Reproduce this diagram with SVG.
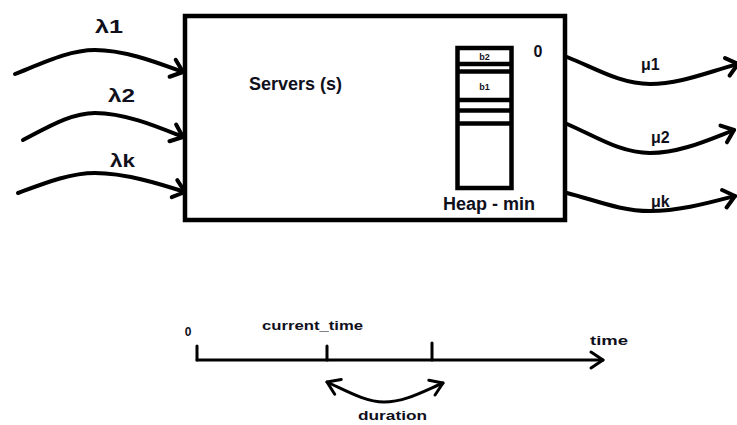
<svg xmlns="http://www.w3.org/2000/svg" width="737" height="425" viewBox="0 0 737 425">
  <defs>
    <style>
      .line { fill: none; stroke: #000; stroke-linecap: round; stroke-linejoin: round; }
      .flow { stroke-width: 4; }
      .thin { stroke-width: 3; }
      .lbl { font-family: "Liberation Sans", Arial, sans-serif; font-weight: bold; fill: #10101c; }
      .big { font-size: 18px; }
      .mid { font-size: 16px; }
      .small { font-size: 12px; }
      .tiny { font-size: 9px; }
    </style>
    <marker id="chev" viewBox="-14 -12 17 24" refX="0" refY="0" markerWidth="17" markerHeight="24" markerUnits="userSpaceOnUse" orient="auto" overflow="visible">
      <path d="M-11,-9 L0,0 L-11,9" fill="none" stroke="#000" stroke-width="4" stroke-linecap="round" stroke-linejoin="round"/>
    </marker>
    <marker id="chevSmall" viewBox="-14 -12 17 24" refX="0" refY="0" markerWidth="17" markerHeight="24" markerUnits="userSpaceOnUse" orient="auto-start-reverse" overflow="visible">
      <path d="M-12,-8 L0,0 L-12,8" fill="none" stroke="#000" stroke-width="3" stroke-linecap="round" stroke-linejoin="round"/>
    </marker>
  </defs>

  <rect width="737" height="425" fill="#fff"/>

  <!-- server block -->
  <g id="servers">
    <rect x="185" y="16" width="380" height="204" fill="#fff" stroke="#000" stroke-width="4.5"/>
    <text class="lbl big" x="249" y="90">Servers (s)</text>
  </g>

  <!-- min-heap drawn inside the server block -->
  <g id="heap">
    <rect x="457.5" y="48" width="54" height="140" fill="#fff" stroke="#000" stroke-width="4.5"/>
    <g stroke="#000" stroke-width="4.5">
      <line x1="457.5" y1="64" x2="511.5" y2="64"/>
      <line x1="457.5" y1="71.5" x2="511.5" y2="71.5"/>
      <line x1="457.5" y1="100" x2="511.5" y2="100"/>
      <line x1="457.5" y1="110.5" x2="511.5" y2="110.5"/>
      <line x1="457.5" y1="123.5" x2="511.5" y2="123.5"/>
    </g>
    <text class="lbl tiny" x="484.5" y="60" text-anchor="middle">b2</text>
    <text class="lbl tiny" x="484.5" y="90" text-anchor="middle">b1</text>
    <text class="lbl mid" x="538" y="57" text-anchor="middle">0</text>
    <text class="lbl big" x="443" y="210">Heap - min</text>
  </g>

  <!-- incoming and outgoing flows -->
  <g id="connectors">
    <path class="line flow" marker-end="url(#chev)" d="M15,74 C45,62 70,50 95,50 C125,50 158,63 183,72"/>
    <path class="line flow" marker-end="url(#chev)" d="M23,140 C50,126 72,113 95,113 C125,113 158,127 183,137"/>
    <path class="line flow" marker-end="url(#chev)" d="M18,193 C45,183 70,173 95,173 C125,173 160,184 185,192"/>

    <path class="line flow" marker-end="url(#chev)" d="M567,57 C595,68 620,84 650,84 C680,84 708,72 738,64"/>
    <path class="line flow" marker-end="url(#chev)" d="M567,124 C595,136 620,153 650,153 C680,153 708,140 734,130"/>
    <path class="line flow" marker-end="url(#chev)" d="M567,193 C595,200 620,211 650,211 C680,211 708,203 735,196"/>
  </g>

  <g id="labels">
    <text class="lbl big" x="95" y="33" textLength="28" lengthAdjust="spacingAndGlyphs">λ1</text>
    <text class="lbl big" x="108" y="102" textLength="27" lengthAdjust="spacingAndGlyphs">λ2</text>
    <text class="lbl big" x="110" y="167" textLength="25" lengthAdjust="spacingAndGlyphs">λk</text>
    <text class="lbl mid" x="641" y="70">μ1</text>
    <text class="lbl mid" x="651" y="143">μ2</text>
    <text class="lbl mid" x="651" y="207">μk</text>
  </g>

  <!-- time axis -->
  <g id="timeline">
    <path class="line thin" marker-end="url(#chevSmall)" d="M197,360 L603,360"/>
    <path class="line thin" d="M197,346 L197,360 M327,346 L327,360 M432,343 L432,360"/>
    <path class="line thin" marker-start="url(#chevSmall)" marker-end="url(#chevSmall)" d="M327,382 C345,390 365,402 384,402 C405,402 424,391 443,383"/>
    <text class="lbl small" x="188" y="336" text-anchor="middle">0</text>
    <text class="lbl small" x="262" y="330" textLength="101" lengthAdjust="spacingAndGlyphs">current_time</text>
    <text class="lbl small" x="590" y="345" textLength="38" lengthAdjust="spacingAndGlyphs">time</text>
    <text class="lbl small" x="358" y="420" textLength="69" lengthAdjust="spacingAndGlyphs">duration</text>
  </g>
</svg>
